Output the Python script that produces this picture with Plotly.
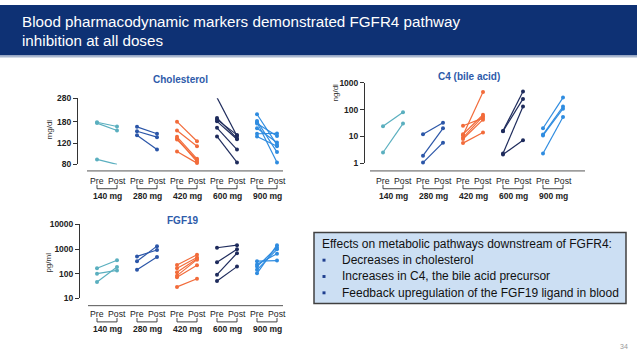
import plotly.graph_objects as go
import math

W, H = 637, 358

# ---------------- data ----------------
doses = ["140 mg", "280 mg", "420 mg", "600 mg", "900 mg"]
timepoints = ["Pre", "Post"]

chol_pre = [[178, 175, 88],
            [163, 150, 139],
            [180, 152, 135, 131, 128, 102],
            [284, 193, 187, 181, 160, 136],
            [207, 182, 178, 174, 159, 143, 136]]
chol_post = [[164, 152, 80],
             [143, 134, 106],
             [124, 113, 89, 84, 87, 82],
             [137, 131, 140, 129, 106, 83],
             [116, 101, 83, 137, 121, 144, 113]]

c4_pre = [[24, 2.5],
          [12, 1.9, 1.05],
          [25, 12, 11, 9, 8, 5.6],
          [16, 15.5, 2.3, 2.1],
          [20, 11.7, 10.8, 2.3]]
c4_post = [[80, 30],
           [32, 20, 5.8],
           [48, 64, 450, 56, 42, 14],
           [470, 250, 130, 7.2],
           [280, 130, 108, 53]]

fgf_pre = [[166, 100, 46],
           [502, 321, 143],
           [224, 166, 113, 83, 72, 29],
           [1127, 293, 91, 50],
           [320, 238, 193, 143, 103]]
fgf_post = [[351, 135, 187],
            [915, 1310, 473],
            [590, 450, 400, 370, 218, 62],
            [1430, 970, 680, 193],
            [340, 640, 1160, 970, 1430]]

chol_ticks = [80, 120, 180, 280]
c4_ticks = [1, 10, 100, 1000]
fgf_ticks = [10, 100, 1000, 10000]

# ---------------- style ----------------
colors = ["#5AAFBF", "#2B56A8", "#F26B3A", "#1E2B5C", "#2F8CE0"]
FONT = "Arial, Liberation Sans, sans-serif"
TITLE_BLUE = "#2E5BAA"


def X(px):
    return px / W


def Y(py):
    return 1 - py / H


fig = go.Figure()

panels = [
    dict(title="Cholesterol", unit="mg/dl", pre=chol_pre, post=chol_post, ticks=chol_ticks,
         xa="x", ya="y", xdom=(87, 283), x0px=97, ydom=(96, 164), yrange=(80, 280),
         yaxpos=77, xline_y=170.7, lab_y=181, br_y=(185, 189), dose_y=196,
         title_xy=(180, 77), unit_xy=(49, 128)),
    dict(title="C4 (bile acid)", unit="ng/dl", pre=c4_pre, post=c4_post, ticks=c4_ticks,
         xa="x2", ya="y2", xdom=(370, 585), x0px=383, ydom=(80, 162.7), yrange=(1, 1000),
         yaxpos=364, xline_y=170.7, lab_y=181, br_y=(185, 189), dose_y=196,
         title_xy=(469, 74), unit_xy=(335, 90)),
    dict(title="FGF19", unit="pg/ml", pre=fgf_pre, post=fgf_post, ticks=fgf_ticks,
         xa="x3", ya="y3", xdom=(88, 283), x0px=97, ydom=(225.7, 301.7), yrange=(10, 10000),
         yaxpos=79, xline_y=309.3, lab_y=318, br_y=(322, 326), dose_y=333,
         title_xy=(183, 222), unit_xy=(49, 265)),
]

shapes = []
annotations = []

for k, p in enumerate(panels):
    for i, dose in enumerate(doses):
        xs, ys = [], []
        for a, b in zip(p["pre"][i], p["post"][i]):
            xs += [2 * i, 2 * i + 1, None]
            ys += [a, b, None]
        fig.add_trace(go.Scatter(
            x=xs, y=ys, mode="lines+markers", xaxis=p["xa"], yaxis=p["ya"],
            line=dict(color=colors[i], width=1.2),
            marker=dict(color=colors[i], size=4),
            cliponaxis=False, showlegend=False, hoverinfo="skip"))
    sfx = "" if k == 0 else str(k + 1)
    x0, x1 = p["xdom"]
    fig.layout["xaxis" + sfx] = dict(
        domain=[X(x0), X(x1)],
        range=[(x0 - p["x0px"]) / 20, (x1 - p["x0px"]) / 20],
        visible=False, anchor=p["ya"])
    yt, yb = p["ydom"]
    fig.layout["yaxis" + sfx] = dict(
        domain=[Y(yb), Y(yt)], type="log",
        range=[math.log10(p["yrange"][0]), math.log10(p["yrange"][1])],
        anchor="free", position=X(p["yaxpos"]),
        showline=True, linecolor="#333333", linewidth=1,
        ticks="outside", ticklen=4, tickwidth=1, tickcolor="#333333",
        tickvals=p["ticks"], ticktext=[str(t) for t in p["ticks"]],
        tickfont=dict(family=FONT, size=8.5, color="#222222", weight="bold"),
        showgrid=False, zeroline=False)
    # x axis line
    shapes.append(dict(type="line", xref="paper", yref="paper",
                       x0=X(x0), x1=X(x1), y0=Y(p["xline_y"]), y1=Y(p["xline_y"]),
                       line=dict(color="#555555", width=1)))
    # labels and brackets
    for i, dose in enumerate(doses):
        for j, tp in enumerate(timepoints):
            annotations.append(dict(x=2 * i + j, y=Y(p["lab_y"]), xref=p["xa"], yref="paper",
                                    text=tp, showarrow=False, xanchor="center", yanchor="middle",
                                    font=dict(family=FONT, size=8.7, color="#222222")))
            shapes.append(dict(type="line", xref=p["xa"], yref="paper",
                               x0=2 * i + j, x1=2 * i + j, y0=Y(p["br_y"][0]), y1=Y(p["br_y"][1]),
                               line=dict(color="#444444", width=1)))
        shapes.append(dict(type="line", xref=p["xa"], yref="paper",
                           x0=2 * i, x1=2 * i + 1, y0=Y(p["br_y"][1]), y1=Y(p["br_y"][1]),
                           line=dict(color="#444444", width=1)))
        annotations.append(dict(x=2 * i + 0.5, y=Y(p["dose_y"]), xref=p["xa"], yref="paper",
                                text=dose, showarrow=False, xanchor="center", yanchor="middle",
                                font=dict(family=FONT, size=8.5, color="#222222", weight="bold")))
    # panel title
    annotations.append(dict(x=X(p["title_xy"][0]), y=Y(p["title_xy"][1]), xref="paper", yref="paper",
                            text=p["title"], showarrow=False, xanchor="center", yanchor="middle",
                            font=dict(family=FONT, size=10, color=TITLE_BLUE, weight="bold")))
    annotations.append(dict(x=X(p["unit_xy"][0]), y=Y(p["unit_xy"][1]), xref="paper", yref="paper",
                            text=p["unit"], showarrow=False, textangle=-90,
                            xanchor="center", yanchor="middle",
                            font=dict(family=FONT, size=8, color="#333333")))

# banner
shapes.insert(0, dict(type="rect", xref="paper", yref="paper", x0=0, x1=1, y0=Y(52), y1=1,
                      fillcolor="#0E3174", line=dict(width=0), layer="below"))
shapes.insert(1, dict(type="line", xref="paper", yref="paper", x0=0, x1=1, y0=Y(53), y1=Y(53),
                      line=dict(color="#A9B7CF", width=2), layer="below"))
annotations.append(dict(x=X(20), y=Y(17), xref="paper", yref="paper",
                        text="Blood pharmacodynamic markers demonstrated FGFR4 pathway",
                        showarrow=False, xanchor="left", yanchor="middle",
                        font=dict(family=FONT, size=15.2, color="white")))
annotations.append(dict(x=X(20), y=Y(37), xref="paper", yref="paper",
                        text="inhibition at all doses",
                        showarrow=False, xanchor="left", yanchor="middle",
                        font=dict(family=FONT, size=15.2, color="white")))

# text box
shapes.append(dict(type="rect", xref="paper", yref="paper", x0=X(314), x1=X(626), y0=Y(307), y1=Y(234),
                   fillcolor="#CCDFF3", line=dict(color="#404040", width=1.5), layer="below"))
annotations.append(dict(x=X(320), y=Y(246), xref="paper", yref="paper",
                        text="Effects on metabolic pathways downstream of FGFR4:",
                        showarrow=False, xanchor="left", yanchor="middle",
                        font=dict(family=FONT, size=12, color="#111111")))
bullets = ["Decreases in cholesterol",
           "Increases in C4, the bile acid precursor",
           "Feedback upregulation of the FGF19 ligand in blood"]
for n, b in enumerate(bullets):
    yy = 262.5 + 16.8 * n
    shapes.append(dict(type="rect", xref="paper", yref="paper", x0=X(322.5), x1=X(325.5),
                       y0=Y(yy + 1.5), y1=Y(yy - 1.5), fillcolor="#1F3F8F", line=dict(width=0)))
    annotations.append(dict(x=X(340), y=Y(yy), xref="paper", yref="paper", text=b,
                            showarrow=False, xanchor="left", yanchor="middle",
                            font=dict(family=FONT, size=12, color="#111111")))

annotations.append(dict(x=X(624), y=Y(351), xref="paper", yref="paper", text="34",
                        showarrow=False, xanchor="center", yanchor="middle",
                        font=dict(family=FONT, size=7, color="#999999")))

fig.update_layout(width=W, height=H, autosize=False,
                  margin=dict(l=0, r=0, t=0, b=0),
                  paper_bgcolor="white", plot_bgcolor="rgba(0,0,0,0)",
                  shapes=shapes, annotations=annotations, showlegend=False)

fig.write_html("out.html", config={"displayModeBar": False},
               post_script="document.body.style.margin='0';")
